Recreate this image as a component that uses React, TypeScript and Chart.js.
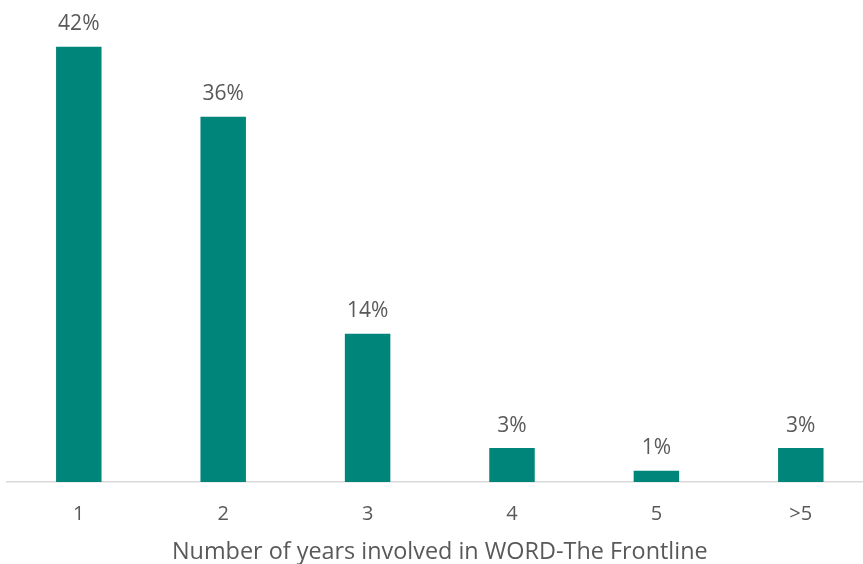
import React, { useEffect, useRef } from "react";
import { Chart, registerables } from "chart.js";

Chart.register(...registerables);

const categories = ["1", "2", "3", "4", "5", ">5"];
const percentValues = [42.3, 35.5, 14.4, 3.3, 1.1, 3.3];
const axisTitle = "Number of years involved in WORD-The Frontline";

const TEXT_COLOR = "#595959";
const BAR_COLOR = "#00857B";
const FONT = "'Open Sans', 'Noto Sans', sans-serif";

const valueLabelPlugin = {
  id: "valueLabels",
  afterDatasetsDraw(chart: any) {
    const { ctx } = chart;
    const meta = chart.getDatasetMeta(0);
    const data = chart.data.datasets[0].data as number[];
    ctx.save();
    ctx.font = `21px ${FONT}`;
    ctx.fillStyle = TEXT_COLOR;
    ctx.textAlign = "center";
    ctx.textBaseline = "alphabetic";
    meta.data.forEach((el: any, i: number) => {
      ctx.fillText(`${Math.round(data[i])}%`, el.x, el.y - 16.5);
    });
    ctx.restore();
  },
};

export default function App() {
  const canvasRef = useRef<HTMLCanvasElement | null>(null);

  useEffect(() => {
    if (!canvasRef.current) return;
    const chart = new Chart(canvasRef.current, {
      type: "bar",
      data: {
        labels: categories,
        datasets: [
          {
            data: percentValues,
            backgroundColor: BAR_COLOR,
            borderWidth: 0,
            barPercentage: 0.315,
            categoryPercentage: 1,
          },
        ],
      },
      options: {
        responsive: false,
        animation: false,
        devicePixelRatio: 1,
        layout: { padding: { left: 6.6, right: 7, top: 19, bottom: 0 } },
        plugins: {
          legend: { display: false },
          tooltip: { enabled: false },
        },
        scales: {
          x: {
            grid: { display: false, drawTicks: false },
            border: { display: true, color: "#D9D9D9", width: 1.5 },
            ticks: {
              color: TEXT_COLOR,
              font: { family: FONT, size: 20, lineHeight: 1.2 },
              padding: 20,
            },
            title: {
              display: true,
              text: axisTitle,
              color: TEXT_COLOR,
              font: { family: FONT, size: 23.4, lineHeight: 1 },
              padding: { top: -5.4, bottom: 0 },
            },
          },
          y: {
            display: false,
            min: 0,
            max: 45,
          },
        },
      },
      plugins: [valueLabelPlugin],
    });
    return () => chart.destroy();
  }, []);

  return (
    <div
      style={{
        position: "fixed",
        left: 0,
        top: 0,
        width: 863,
        height: 564,
        overflow: "hidden",
        background: "#ffffff",
      }}
    >
      <canvas ref={canvasRef} width={880} height={564} style={{ display: "block" }} />
    </div>
  );
}
